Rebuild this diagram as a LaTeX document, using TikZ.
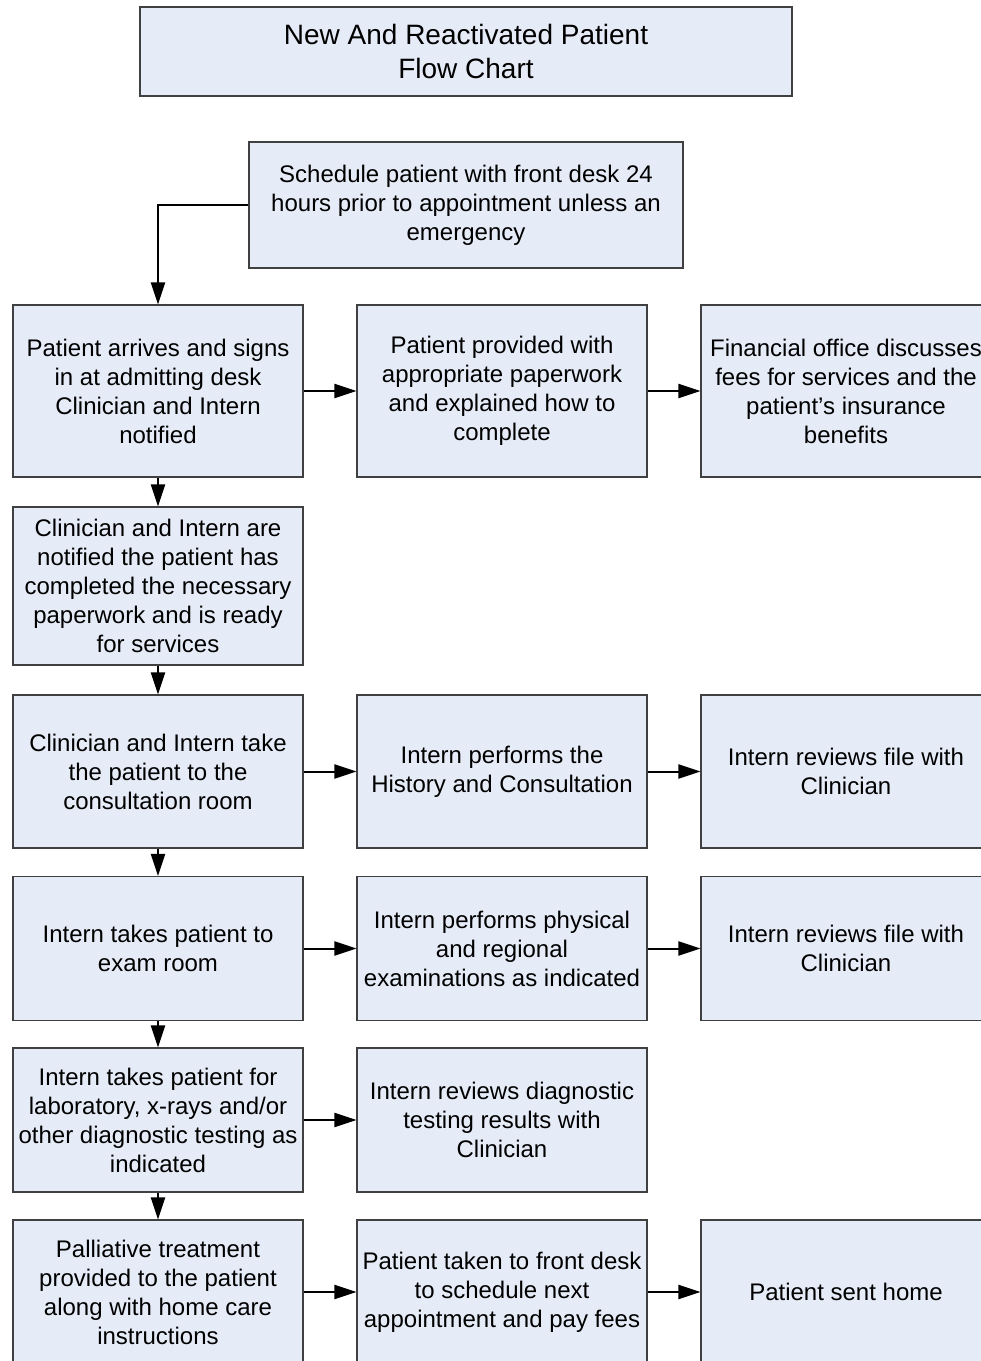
\documentclass[tikz,border=0pt]{standalone}
\usepackage{fontspec}
\setmainfont{Liberation Sans}
\usetikzlibrary{arrows.meta}
\definecolor{boxfill}{HTML}{E6ECF7}
\definecolor{boxline}{HTML}{404040}
\begin{document}
\begin{tikzpicture}[x=1pt,y=-1pt,
  box/.style={draw=boxline,line width=1.1pt,fill=boxfill,rectangle,inner sep=0pt,
    align=center,font=\fontsize{24}{29}\selectfont},
  conn/.style={line width=2pt,-{Triangle[length=22pt,width=14pt]}}]
\useasboundingbox (0,0) rectangle (981,1361);
\clip (0,0) rectangle (981,1361);
% title and schedule
\node[box,minimum width=652pt,minimum height=89pt,font=\fontsize{28}{34}\selectfont] (title) at (466,51.5) {New And Reactivated Patient\\Flow Chart};
\node[box,minimum width=434pt,minimum height=126pt] (sched) at (466,205) {Schedule patient with front desk 24\\hours prior to appointment unless an\\emergency};
% row 1
\node[box,minimum width=290pt,minimum height=172pt] (r1a) at (158,391) {Patient arrives and signs\\in at admitting desk\\Clinician and Intern\\notified};
\node[box,minimum width=290pt,minimum height=172pt] (r1b) at (502,391) {Patient provided with\\appropriate paperwork\\and explained how to\\complete};
\node[box,minimum width=290pt,minimum height=172pt] (r1c) at (846,391) {Financial office discusses\\fees for services and the\\patient’s insurance\\benefits};
% row 2
\node[box,minimum width=290pt,minimum height=158pt] (r2a) at (158,586) {Clinician and Intern are\\notified the patient has\\completed the necessary\\paperwork and is ready\\for services};
% row 3
\node[box,minimum width=290pt,minimum height=153pt] (r3a) at (158,771.5) {Clinician and Intern take\\the patient to the\\consultation room};
\node[box,minimum width=290pt,minimum height=153pt] (r3b) at (502,771.5) {Intern performs the\\History and Consultation};
\node[box,minimum width=290pt,minimum height=153pt] (r3c) at (846,771.5) {Intern reviews file with\\Clinician};
% row 4
\node[box,minimum width=290pt,minimum height=144pt] (r4a) at (158,948.5) {Intern takes patient to\\exam room};
\node[box,minimum width=290pt,minimum height=144pt] (r4b) at (502,948.5) {Intern performs physical\\and regional\\examinations as indicated};
\node[box,minimum width=290pt,minimum height=144pt] (r4c) at (846,948.5) {Intern reviews file with\\Clinician};
% row 5
\node[box,minimum width=290pt,minimum height=144pt] (r5a) at (158,1120) {Intern takes patient for\\laboratory, x-rays and/or\\other diagnostic testing as\\indicated};
\node[box,minimum width=290pt,minimum height=144pt] (r5b) at (502,1120) {Intern reviews diagnostic\\testing results with\\Clinician};
% row 6
\node[box,minimum width=290pt,minimum height=144pt] (r6a) at (158,1292) {Palliative treatment\\provided to the patient\\along with home care\\instructions};
\node[box,minimum width=290pt,minimum height=144pt] (r6b) at (502,1292) {Patient taken to front desk\\to schedule next\\appointment and pay fees};
\node[box,minimum width=290pt,minimum height=144pt] (r6c) at (846,1292) {Patient sent home};
% connectors
\draw[conn] (sched.west) -| (r1a.north);
\draw[conn] (r1a) -- (r1b);
\draw[conn] (r1b) -- (r1c);
\draw[conn] (r1a) -- (r2a);
\draw[conn] (r2a) -- (r3a);
\draw[conn] (r3a) -- (r3b);
\draw[conn] (r3b) -- (r3c);
\draw[conn] (r3a) -- (r4a);
\draw[conn] (r4a) -- (r4b);
\draw[conn] (r4b) -- (r4c);
\draw[conn] (r4a) -- (r5a);
\draw[conn] (r5a) -- (r5b);
\draw[conn] (r5a) -- (r6a);
\draw[conn] (r6a) -- (r6b);
\draw[conn] (r6b) -- (r6c);
\end{tikzpicture}
\end{document}
